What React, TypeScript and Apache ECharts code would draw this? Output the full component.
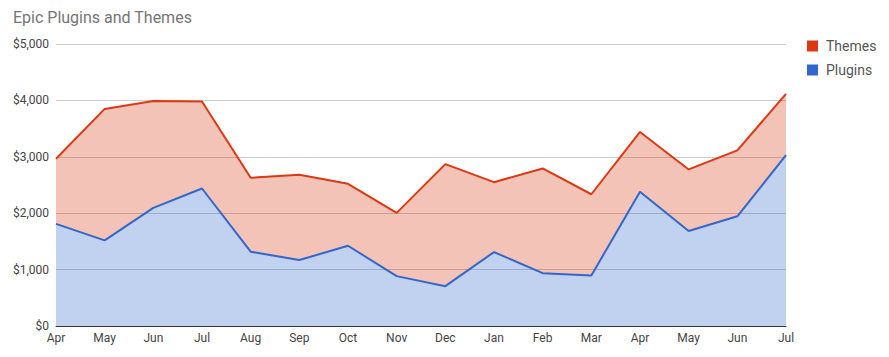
import React, { useEffect, useRef } from "react";
import * as echarts from "echarts";

const months = ["Apr", "May", "Jun", "Jul", "Aug", "Sep", "Oct", "Nov", "Dec", "Jan", "Feb", "Mar", "Apr", "May", "Jun", "Jul"];
const plugins = [1810, 1518, 2094, 2438, 1317, 1169, 1423, 884, 706, 1311, 937, 895, 2379, 1685, 1945, 3030];
const themes = [1156, 2331, 1897, 1542, 1311, 1512, 1098, 1121, 2164, 1239, 1857, 1441, 1061, 1091, 1169, 1086];
const yTicks = [0, 1000, 2000, 3000, 4000, 5000];

const FONT = "Roboto, Arial, sans-serif";

export default function App() {
  const ref = useRef<HTMLDivElement>(null);
  useEffect(() => {
    if (!ref.current) return;
    const chart = echarts.init(ref.current, undefined, { renderer: "svg" });
    chart.setOption({
      animation: false,
      textStyle: { fontFamily: FONT },
      title: {
        text: "Epic Plugins and Themes",
        left: 8,
        top: 4,
        textStyle: { fontFamily: FONT, fontSize: 16, fontWeight: "normal", color: "#757575" },
      },
      legend: {
        orient: "vertical",
        left: 802,
        top: 34,
        padding: 5,
        itemWidth: 11,
        itemHeight: 11,
        itemGap: 10,
        icon: "rect",
        data: ["Themes", "Plugins"],
        textStyle: { fontFamily: FONT, fontSize: 14, color: "#555", padding: [0, 0, 0, 3] },
      },
      grid: { left: 56, right: 103, top: 44, bottom: 31, containLabel: false },
      xAxis: {
        type: "category",
        boundaryGap: false,
        data: months,
        axisLine: { show: true, lineStyle: { color: "#333", width: 1 } },
        axisTick: { show: false },
        axisLabel: { color: "#444", fontSize: 12, fontFamily: FONT, margin: 6, interval: 0 },
        splitLine: { show: false },
      },
      yAxis: {
        type: "value",
        min: yTicks[0],
        max: yTicks[yTicks.length - 1],
        interval: 1000,
        axisLine: { show: false },
        axisTick: { show: false },
        axisLabel: {
          color: "#444",
          fontSize: 12,
          fontFamily: FONT,
          margin: 7,
          formatter: (v: number) => "$" + v.toLocaleString("en-US"),
        },
        splitLine: { show: true, lineStyle: { color: "#ccc", width: 1 } },
      },
      series: [
        {
          name: "Plugins",
          type: "line",
          stack: "total",
          data: plugins,
          symbol: "none",
          lineStyle: { color: "#3366cc", width: 2 },
          itemStyle: { color: "#3366cc" },
          areaStyle: { color: "#3366cc", opacity: 0.3 },
        },
        {
          name: "Themes",
          type: "line",
          stack: "total",
          data: themes,
          symbol: "none",
          lineStyle: { color: "#dc3912", width: 2 },
          itemStyle: { color: "#dc3912" },
          areaStyle: { color: "#dc3912", opacity: 0.3 },
        },
      ],
    });
    return () => chart.dispose();
  }, []);
  return <div ref={ref} style={{ width: 889, height: 357, position: "absolute", left: 0, top: 0 }} />;
}
